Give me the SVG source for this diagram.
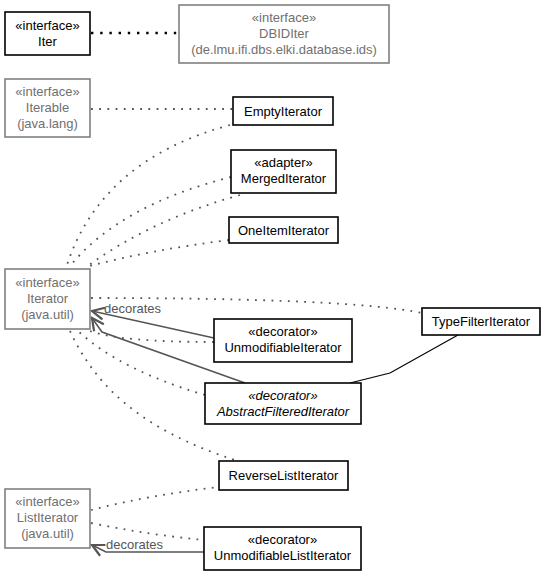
<svg xmlns="http://www.w3.org/2000/svg" width="547" height="576" viewBox="0 0 547 576">
<style>
  .box{fill:#fff;stroke:#000;stroke-width:1.6}
  .gbox{fill:#fff;stroke:#808080;stroke-width:1.6}
  text{font-family:"Liberation Sans",Arial,sans-serif;font-size:13px;text-anchor:middle;fill:#000}
  .g{fill:#707070}
  .it{font-style:italic}
  .dot{fill:none;stroke:#555;stroke-width:1.8;stroke-dasharray:1.8,6.4}
  .thick{fill:none;stroke:#000;stroke-width:2.4;stroke-dasharray:2.4,6.8}
  .dec{fill:none;stroke:#555;stroke-width:1.5}
  .assoc{fill:none;stroke:#000;stroke-width:1.2}
  .lbl{fill:#555;text-anchor:start}
</style>
<defs>
  <marker id="open" markerUnits="userSpaceOnUse" markerWidth="16" markerHeight="16" refX="13" refY="7" orient="auto">
    <path d="M1,1 L13,7 L1,13" fill="none" stroke="#555" stroke-width="2.2"/>
  </marker>
</defs>
<g id="connectors">
  <path class="thick" d="M91,33 L179,33"/>
  <path class="dot" d="M91,109 L233,109"/>
  <path class="dot" d="M230,125 Q100,160 66,268"/>
  <path class="dot" d="M231,177 Q120,205 70,266"/>
  <path class="dot" d="M240,195 Q150,220 85,268"/>
  <path class="dot" d="M229,240 Q150,250 90,266"/>
  <path class="dot" d="M91,298 Q350,298 422,313"/>
  <path class="dot" d="M214,342 Q120,342 90,331"/>
  <path class="dot" d="M205,395 Q120,370 78,331"/>
  <path class="dot" d="M70,331 C95,385 140,430 238,461"/>
  <path class="dot" d="M91,510 Q150,495 219,487"/>
  <path class="dot" d="M91,523 Q150,535 204,540"/>
  <path class="dec" d="M214,338 L92,311" marker-end="url(#open)"/>
  <path class="dec" d="M245,383 L102,332 L92,318" marker-end="url(#open)"/>
  <path class="dec" d="M204,552 L106,552 L92,545" marker-end="url(#open)"/>
  <path class="assoc" d="M458,335 L390,373 L350,383"/>
  <text class="lbl" x="104" y="313">decorates</text>
  <text class="lbl" x="106" y="549">decorates</text>
</g>
<g id="Iter">
  <rect class="box" x="5" y="12" width="85" height="43"/>
  <text x="47.5" y="30">«interface»</text>
  <text x="47.5" y="46">Iter</text>
</g>
<g id="DBIDIter">
  <rect class="gbox" x="179" y="5" width="210" height="58"/>
  <text class="g" x="284" y="22">«interface»</text>
  <text class="g" x="284" y="38">DBIDIter</text>
  <text class="g" x="284" y="54">(de.lmu.ifi.dbs.elki.database.ids)</text>
</g>
<g id="Iterable">
  <rect class="gbox" x="5" y="79" width="85" height="58"/>
  <text class="g" x="47.5" y="96">«interface»</text>
  <text class="g" x="47.5" y="112">Iterable</text>
  <text class="g" x="47.5" y="128">(java.lang)</text>
</g>
<g id="EmptyIterator">
  <rect class="box" x="233" y="97" width="100" height="28"/>
  <text x="283" y="115.5">EmptyIterator</text>
</g>
<g id="MergedIterator">
  <rect class="box" x="231" y="150" width="105" height="43"/>
  <text x="283.5" y="167">«adapter»</text>
  <text x="283.5" y="183">MergedIterator</text>
</g>
<g id="OneItemIterator">
  <rect class="box" x="229" y="217" width="109" height="26"/>
  <text x="283.5" y="235">OneItemIterator</text>
</g>
<g id="Iterator">
  <rect class="gbox" x="5" y="269" width="85" height="60"/>
  <text class="g" x="47.5" y="287">«interface»</text>
  <text class="g" x="47.5" y="303">Iterator</text>
  <text class="g" x="47.5" y="319">(java.util)</text>
</g>
<g id="TypeFilterIterator">
  <rect class="box" x="422" y="308" width="118" height="27"/>
  <text x="481" y="326">TypeFilterIterator</text>
</g>
<g id="UnmodifiableIterator">
  <rect class="box" x="214" y="319" width="138" height="43"/>
  <text x="283" y="336">«decorator»</text>
  <text x="283" y="352">UnmodifiableIterator</text>
</g>
<g id="AbstractFilteredIterator">
  <rect class="box" x="205" y="383" width="156" height="41"/>
  <text class="it" x="283" y="400">«decorator»</text>
  <text class="it" x="283" y="416">AbstractFilteredIterator</text>
</g>
<g id="ReverseListIterator">
  <rect class="box" x="219" y="461" width="129" height="29"/>
  <text x="283.5" y="480">ReverseListIterator</text>
</g>
<g id="ListIterator">
  <rect class="gbox" x="5" y="489" width="85" height="59"/>
  <text class="g" x="47.5" y="506">«interface»</text>
  <text class="g" x="47.5" y="522">ListIterator</text>
  <text class="g" x="47.5" y="538">(java.util)</text>
</g>
<g id="UnmodifiableListIterator">
  <rect class="box" x="204" y="527" width="157" height="43"/>
  <text x="282.5" y="544">«decorator»</text>
  <text x="282.5" y="560">UnmodifiableListIterator</text>
</g>
</svg>
